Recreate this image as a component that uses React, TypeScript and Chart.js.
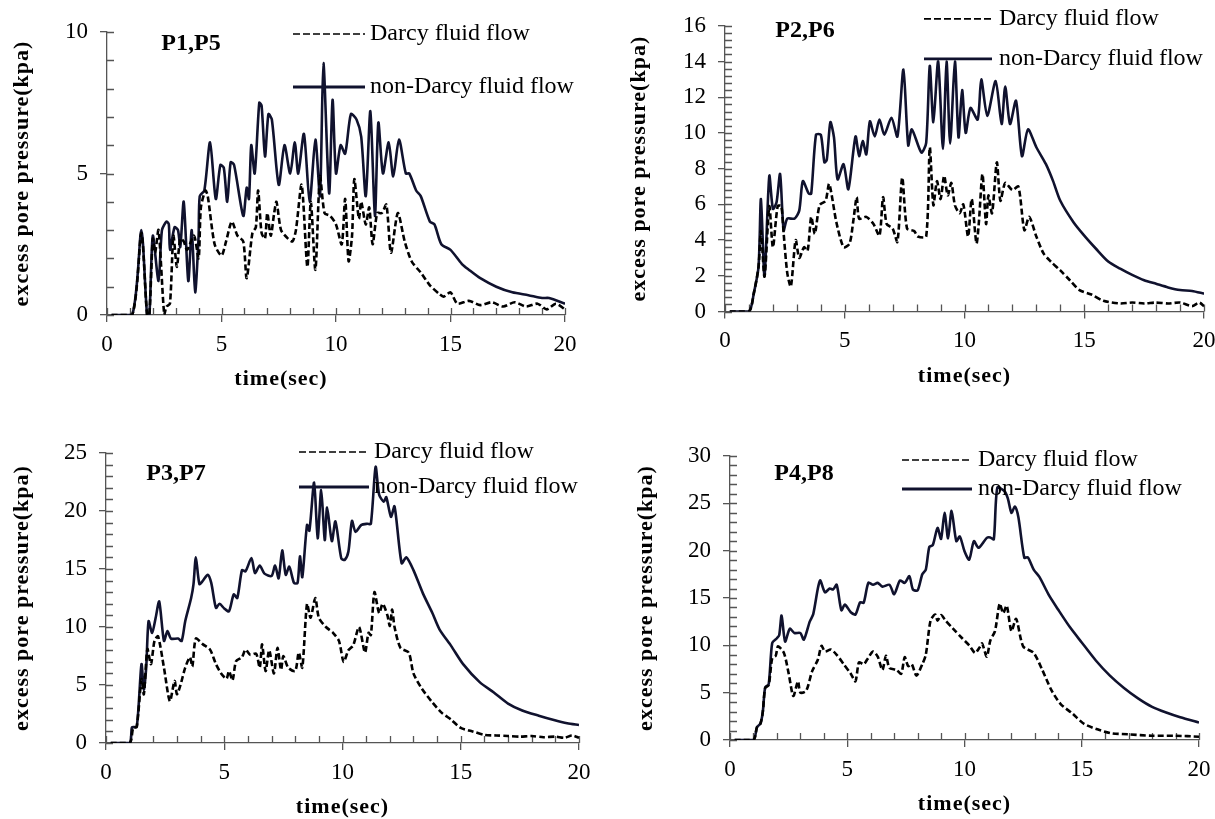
import React, { useEffect, useRef } from "react";
import { Chart, registerables } from "chart.js";

Chart.register(...registerables);

type Pair = [number, number];

// ---------------- data (time s, excess pore pressure kPa) ----------------
const seriesNames = ["Darcy fluid flow", "non-Darcy fluid flow"];
const panelLabels = ["P1,P5", "P2,P6", "P3,P7", "P4,P8"];
const xAxisTitle = "time(sec)";
const yAxisTitle = "excess pore pressure(kpa)";
const xMin = 0;
const xMax = 20;
const xMajorStep = 5;
const xMinorStep = 1;
const yMaxes = [10, 16, 25, 30];
const yMajorSteps = [5, 2, 5, 5];
const yMinorSteps = [1, 0.4, 1, 1];

const p1Darcy: Pair[] = [
  [0.2, 0], [1.1, 0], [1.5, 2.9], [1.75, 0], [1.85, 0], [2.0, 2.7], [2.1, 2.2], [2.25, 3.0], [2.5, 0], [2.6, 0.3],
  [2.75, 0.4], [2.9, 2.8], [3.05, 1.7], [3.2, 2.7], [3.35, 2.6], [3.5, 2.3], [3.8, 2.8], [4.0, 2.0], [4.1, 3.8], [4.3, 4.4],
  [4.4, 4.2], [4.7, 2.5], [5.0, 2.1], [5.2, 2.6], [5.45, 3.3], [5.7, 2.8], [5.95, 2.6], [6.1, 1.3], [6.35, 2.9], [6.5, 3.1],
  [6.6, 4.4], [6.75, 2.9], [6.9, 2.7], [7.0, 3.6], [7.15, 2.8], [7.3, 3.6], [7.4, 4.0], [7.6, 3.0], [7.9, 2.7], [8.1, 2.6],
  [8.25, 3.0], [8.5, 4.6], [8.75, 1.7], [8.9, 4.0], [9.1, 1.6], [9.3, 4.9], [9.5, 3.6], [9.75, 3.5], [10.0, 3.2], [10.25, 2.5],
  [10.4, 4.1], [10.55, 1.9], [10.7, 2.8], [10.8, 4.8], [11.0, 3.4], [11.1, 4.0], [11.3, 3.2], [11.45, 3.8], [11.6, 2.5], [11.8, 3.6],
  [12.0, 3.6], [12.2, 3.9], [12.4, 2.2], [12.7, 3.6], [13.0, 2.6], [13.3, 1.9], [13.7, 1.5], [14.1, 1.05], [14.5, 0.75], [14.7, 0.65],
  [15.0, 0.8], [15.3, 0.4], [15.8, 0.5], [16.3, 0.35], [16.8, 0.45], [17.3, 0.3], [17.8, 0.45], [18.3, 0.3], [18.8, 0.4], [19.2, 0.2],
  [19.6, 0.4], [20.0, 0.2],
];

const p1NonDarcy: Pair[] = [
  [0.2, 0], [1.1, 0], [1.5, 3.0], [1.75, 0], [1.85, 0], [2.0, 2.8], [2.25, 1.2], [2.4, 3.0], [2.6, 3.3], [2.7, 3.2],
  [2.75, 2.3], [2.95, 3.1], [3.1, 3.0], [3.2, 2.4], [3.35, 4.0], [3.55, 1.2], [3.7, 3.0], [3.85, 0.8], [4.0, 2.8], [4.05, 4.2],
  [4.25, 4.4], [4.5, 6.1], [4.75, 4.1], [4.95, 5.3], [5.1, 5.2], [5.25, 4.0], [5.4, 5.4], [5.55, 5.3], [5.95, 3.5], [6.1, 4.5],
  [6.2, 4.1], [6.3, 6.0], [6.45, 5.0], [6.65, 7.5], [6.75, 7.4], [6.9, 5.6], [7.05, 7.1], [7.2, 6.9], [7.5, 4.6], [7.75, 6.0],
  [8.0, 5.0], [8.2, 6.1], [8.35, 5.0], [8.6, 6.4], [8.85, 4.0], [9.1, 6.2], [9.3, 4.2], [9.45, 8.9], [9.7, 4.3], [9.85, 7.6],
  [10.0, 5.0], [10.2, 6.0], [10.4, 5.7], [10.65, 7.1], [10.9, 6.9], [11.1, 6.3], [11.3, 4.2], [11.5, 7.2], [11.7, 3.5], [11.85, 6.8],
  [12.05, 5.0], [12.3, 6.1], [12.5, 4.9], [12.75, 6.2], [13.05, 5.0], [13.2, 5.0], [13.5, 4.4], [13.7, 4.2], [14.1, 3.3], [14.3, 3.2],
  [14.6, 2.5], [15.0, 2.3], [15.5, 1.8], [15.8, 1.6], [16.3, 1.3], [17.0, 1.0], [17.7, 0.8], [18.4, 0.7], [19.0, 0.6], [19.3, 0.6],
  [20.0, 0.4],
];

const p2Darcy: Pair[] = [
  [0.2, 0], [1.0, 0], [1.2, 1.0], [1.4, 2.5], [1.5, 4.5], [1.65, 1.95], [1.85, 5.9], [2.0, 3.6], [2.2, 5.9], [2.35, 5.9],
  [2.45, 4.35], [2.6, 2.15], [2.75, 1.4], [2.95, 4.0], [3.1, 3.0], [3.3, 3.6], [3.45, 3.4], [3.6, 5.3], [3.75, 4.35], [3.95, 5.95],
  [4.2, 6.2], [4.35, 7.15], [4.65, 5.0], [4.95, 3.6], [5.2, 3.8], [5.35, 5.0], [5.5, 6.4], [5.6, 5.2], [5.9, 5.3], [6.2, 4.9],
  [6.45, 4.25], [6.6, 6.4], [6.75, 4.9], [7.0, 4.65], [7.2, 3.9], [7.4, 7.5], [7.6, 4.65], [7.9, 4.5], [8.05, 4.2], [8.4, 4.2],
  [8.55, 9.2], [8.7, 5.95], [8.85, 7.3], [9.0, 6.3], [9.15, 7.6], [9.3, 6.5], [9.45, 7.2], [9.6, 5.95], [9.8, 5.5], [9.95, 6.0],
  [10.15, 4.2], [10.3, 6.3], [10.5, 3.8], [10.6, 5.0], [10.75, 7.7], [10.9, 4.9], [11.0, 6.5], [11.15, 5.5], [11.35, 8.35], [11.5, 6.2],
  [11.7, 7.2], [12.0, 6.8], [12.25, 7.0], [12.5, 4.55], [12.7, 5.3], [13.0, 4.2], [13.3, 3.25], [13.6, 2.8], [14.0, 2.3], [14.4, 1.75],
  [14.8, 1.2], [15.3, 0.95], [15.8, 0.6], [16.5, 0.45], [17.0, 0.5], [17.5, 0.45], [18.0, 0.5], [18.5, 0.45], [19.0, 0.5], [19.5, 0.3],
  [19.8, 0.5], [20.0, 0.3],
];

const p2NonDarcy: Pair[] = [
  [0.2, 0], [1.0, 0], [1.2, 1.0], [1.4, 2.5], [1.5, 6.3], [1.65, 2.0], [1.85, 7.6], [2.0, 5.75], [2.15, 6.1], [2.3, 7.7],
  [2.45, 4.55], [2.6, 5.2], [2.9, 5.2], [3.1, 5.65], [3.25, 7.3], [3.5, 6.6], [3.6, 6.6], [3.8, 9.9], [4.0, 9.9], [4.15, 8.35],
  [4.25, 8.5], [4.4, 10.6], [4.55, 9.75], [4.7, 7.4], [4.95, 8.25], [5.15, 6.85], [5.45, 9.8], [5.6, 8.7], [5.75, 9.55], [5.9, 8.8],
  [6.05, 10.65], [6.25, 9.8], [6.45, 10.75], [6.65, 9.9], [6.95, 10.85], [7.2, 9.8], [7.45, 13.55], [7.65, 9.3], [7.8, 10.2], [8.2, 8.9],
  [8.4, 9.45], [8.55, 13.75], [8.7, 10.6], [8.9, 14.0], [9.1, 9.1], [9.25, 14.0], [9.4, 9.4], [9.6, 14.0], [9.75, 9.75], [9.9, 12.4],
  [10.05, 10.0], [10.25, 11.4], [10.55, 10.75], [10.7, 13.0], [10.95, 10.95], [11.3, 12.9], [11.55, 10.5], [11.7, 12.6], [11.9, 10.5], [12.15, 11.8],
  [12.4, 8.7], [12.65, 10.2], [13.0, 9.2], [13.4, 8.25], [13.7, 7.3], [14.0, 6.2], [14.55, 5.0], [15.0, 4.25], [15.5, 3.5], [16.0, 2.8],
  [16.5, 2.4], [17.0, 2.05], [17.5, 1.75], [18.0, 1.55], [18.5, 1.35], [19.0, 1.2], [19.5, 1.15], [20.0, 1.0],
];

const p3Darcy: Pair[] = [
  [0.2, 0], [1.0, 0], [1.15, 1.3], [1.3, 1.4], [1.5, 5.5], [1.6, 4.2], [1.75, 8.1], [1.9, 6.8], [2.05, 8.8], [2.2, 9.2],
  [2.45, 6.5], [2.7, 3.6], [2.9, 5.35], [3.0, 4.2], [3.15, 5.0], [3.35, 6.5], [3.55, 7.4], [3.65, 6.6], [3.8, 9.0], [4.1, 8.5],
  [4.4, 8.05], [4.65, 6.8], [4.9, 5.9], [5.1, 5.55], [5.2, 6.2], [5.35, 5.4], [5.5, 7.05], [5.75, 7.4], [5.9, 8.05], [6.1, 7.6],
  [6.35, 7.7], [6.5, 6.5], [6.6, 8.5], [6.75, 6.2], [6.9, 8.0], [7.1, 6.0], [7.25, 8.2], [7.4, 6.3], [7.5, 7.5], [7.7, 6.5],
  [8.0, 6.2], [8.15, 7.8], [8.3, 6.5], [8.5, 12.0], [8.65, 10.8], [8.85, 12.5], [9.0, 10.8], [9.3, 10.0], [9.6, 9.5], [9.85, 8.8],
  [10.05, 7.0], [10.25, 8.0], [10.45, 8.4], [10.7, 10.0], [10.95, 7.8], [11.1, 9.5], [11.2, 9.3], [11.35, 13.0], [11.55, 11.2], [11.7, 12.0],
  [11.9, 11.0], [12.0, 10.1], [12.1, 11.5], [12.2, 10.0], [12.45, 8.2], [12.8, 7.8], [13.0, 6.0], [13.35, 4.7], [13.8, 3.5], [14.2, 2.6],
  [14.6, 2.0], [15.0, 1.3], [15.5, 1.0], [16.0, 0.7], [16.5, 0.65], [17.0, 0.6], [17.5, 0.55], [18.0, 0.6], [18.5, 0.5], [19.0, 0.55],
  [19.4, 0.45], [19.7, 0.65], [20.0, 0.45],
];

const p3NonDarcy: Pair[] = [
  [0.2, 0], [1.0, 0], [1.1, 1.35], [1.3, 1.4], [1.5, 6.8], [1.6, 4.6], [1.7, 6.5], [1.8, 10.5], [1.95, 9.5], [2.1, 10.8],
  [2.25, 12.2], [2.45, 8.8], [2.6, 9.65], [2.75, 9.0], [3.05, 9.0], [3.2, 8.8], [3.35, 10.5], [3.6, 12.5], [3.7, 13.7], [3.8, 16.0],
  [3.95, 13.7], [4.1, 14.0], [4.3, 14.5], [4.45, 13.8], [4.65, 11.65], [4.8, 12.0], [5.0, 11.6], [5.2, 11.35], [5.4, 12.8], [5.55, 12.5],
  [5.75, 14.9], [5.9, 14.8], [6.15, 15.95], [6.3, 14.65], [6.5, 15.3], [6.7, 14.6], [7.0, 14.4], [7.15, 15.3], [7.3, 14.2], [7.45, 16.6],
  [7.6, 14.5], [7.75, 15.2], [7.95, 13.8], [8.1, 13.8], [8.2, 16.1], [8.3, 14.3], [8.5, 18.8], [8.6, 18.3], [8.8, 22.45], [8.95, 17.65],
  [9.1, 21.8], [9.25, 17.5], [9.35, 20.3], [9.55, 17.4], [9.7, 19.1], [9.95, 15.9], [10.1, 15.8], [10.25, 16.5], [10.4, 19.15], [10.55, 18.2],
  [10.8, 18.8], [11.05, 18.9], [11.2, 18.9], [11.4, 23.8], [11.55, 21.4], [11.75, 20.8], [11.85, 21.2], [12.05, 19.5], [12.2, 20.4], [12.5, 15.5],
  [12.7, 16.0], [13.0, 14.9], [13.4, 12.9], [13.8, 11.2], [14.1, 9.8], [14.6, 8.35], [15.1, 6.8], [15.8, 5.25], [16.4, 4.35], [17.0, 3.4],
  [17.6, 2.8], [18.3, 2.35], [18.9, 2.0], [19.5, 1.7], [20.0, 1.55],
];

const p4Darcy: Pair[] = [
  [0.2, 0], [1.0, 0], [1.15, 1.35], [1.3, 1.75], [1.4, 3.0], [1.5, 5.5], [1.65, 5.8], [1.8, 8.65], [1.95, 8.9], [2.05, 9.9],
  [2.3, 9.2], [2.5, 7.05], [2.7, 4.65], [2.9, 6.2], [3.0, 5.0], [3.25, 5.2], [3.5, 7.25], [3.75, 8.5], [3.9, 9.95], [4.05, 9.35],
  [4.3, 9.55], [4.55, 9.0], [4.85, 8.0], [5.15, 7.0], [5.35, 6.2], [5.5, 8.2], [5.7, 8.0], [5.85, 8.5], [6.1, 9.35], [6.3, 8.8],
  [6.5, 7.4], [6.65, 8.9], [6.8, 7.6], [7.1, 7.4], [7.3, 7.0], [7.45, 8.75], [7.6, 7.8], [7.75, 8.0], [7.95, 6.8], [8.2, 8.0],
  [8.35, 9.0], [8.55, 12.6], [8.75, 13.25], [8.85, 12.6], [9.0, 13.2], [9.2, 12.6], [9.5, 11.8], [9.9, 10.75], [10.2, 10.0], [10.45, 9.2],
  [10.65, 9.8], [10.75, 10.2], [10.95, 8.8], [11.1, 10.5], [11.3, 11.5], [11.5, 14.4], [11.65, 13.4], [11.8, 14.2], [12.0, 11.5], [12.2, 12.8],
  [12.5, 9.9], [12.95, 9.2], [13.3, 7.5], [13.7, 5.3], [14.1, 3.8], [14.6, 2.8], [15.1, 1.7], [15.7, 1.1], [16.3, 0.7], [17.0, 0.6],
  [18.0, 0.45], [19.0, 0.45], [20.0, 0.35],
];

const p4NonDarcy: Pair[] = [
  [0.2, 0], [1.0, 0], [1.15, 1.35], [1.3, 1.75], [1.4, 3.0], [1.5, 5.55], [1.65, 5.9], [1.8, 10.25], [2.0, 10.75], [2.1, 11.1],
  [2.2, 13.15], [2.35, 10.4], [2.55, 11.75], [2.75, 11.3], [3.0, 11.3], [3.15, 10.6], [3.4, 12.5], [3.55, 13.3], [3.75, 16.05], [3.85, 16.85],
  [4.05, 15.6], [4.25, 16.0], [4.4, 15.9], [4.55, 16.4], [4.75, 13.7], [4.9, 14.3], [5.15, 13.5], [5.35, 13.25], [5.55, 14.55], [5.7, 14.5],
  [5.9, 16.6], [6.1, 16.4], [6.3, 16.6], [6.5, 16.2], [6.8, 16.4], [7.0, 15.4], [7.25, 16.85], [7.45, 16.6], [7.65, 17.3], [7.8, 15.9],
  [8.0, 15.8], [8.2, 17.5], [8.35, 18.0], [8.5, 20.4], [8.65, 20.6], [8.85, 22.4], [9.0, 21.25], [9.15, 24.0], [9.3, 21.3], [9.45, 24.2],
  [9.65, 21.0], [9.8, 21.5], [10.0, 19.95], [10.2, 19.05], [10.4, 21.0], [10.6, 20.3], [10.95, 21.35], [11.1, 21.4], [11.25, 21.2], [11.4, 26.65],
  [11.7, 26.3], [11.85, 25.5], [12.0, 24.0], [12.15, 24.65], [12.3, 23.5], [12.55, 19.25], [12.7, 19.3], [12.95, 18.0], [13.2, 17.2], [13.6, 15.3],
  [14.0, 13.75], [14.5, 11.9], [15.0, 10.3], [15.6, 8.4], [16.2, 6.8], [16.8, 5.5], [17.4, 4.4], [18.0, 3.5], [18.6, 2.9], [19.2, 2.4],
  [20.0, 1.85],
];

const darcySeries = [p1Darcy, p2Darcy, p3Darcy, p4Darcy];
const nonDarcySeries = [p1NonDarcy, p2NonDarcy, p3NonDarcy, p4NonDarcy];

// ---------------- layout & style ----------------
const PAGE_W = 1215;
const PAGE_H = 819;
const CANVAS_W = 1260;
const CANVAS_H = 860;
const X_SCALE_H = 78;
const FONT = "'Liberation Serif', 'Times New Roman', serif";
const AXIS_COLOR = "#555555";
const SOLID_COLOR = "#10122e";
const DASH_COLOR = "#000000";
const TICK_FONT = 23;
const TITLE_FONT = 22;
const LEGEND_FONT = 24;

type PanelLayout = {
  left: number; right: number; top: number; bottom: number;
  yTitleX: number; xTitleShift: number;
  legend: { x0: number; x1: number; tx: number; y1: number; y2: number };
  label: { cx: number; cy: number };
};

const layouts: PanelLayout[] = [
  { left: 107, right: 565, top: 32, bottom: 315, yTitleX: 22, xTitleShift: -55,
    legend: { x0: 186, x1: 258, tx: 263, y1: 2, y2: 55 }, label: { cx: 84, cy: 12 } },
  { left: 725, right: 1204, top: 24, bottom: 311.5, yTitleX: 639, xTitleShift: 0,
    legend: { x0: 199, x1: 267, tx: 274, y1: -7, y2: 33 }, label: { cx: 80, cy: 5 } },
  { left: 106, right: 579, top: 453, bottom: 743, yTitleX: 22, xTitleShift: 0,
    legend: { x0: 193, x1: 263, tx: 268, y1: -1, y2: 34 }, label: { cx: 70, cy: 21 } },
  { left: 730, right: 1199, top: 456, bottom: 740, yTitleX: 646, xTitleShift: 0,
    legend: { x0: 172, x1: 242, tx: 248, y1: 4, y2: 33 }, label: { cx: 74, cy: 18 } },
];

const decorPlugin = {
  id: "decor",
  beforeDatasetsDraw(chart: any, _args: any, opts: any) {
    const { ctx, chartArea, scales } = chart;
    const x = scales.x;
    const y = scales.y;
    ctx.save();
    ctx.strokeStyle = AXIS_COLOR;
    ctx.lineWidth = 1.3;
    ctx.beginPath();
    for (let i = 0; xMin + i * xMinorStep <= xMax + 1e-9; i++) {
      const px = Math.round(x.getPixelForValue(xMin + i * xMinorStep)) + 0.5;
      ctx.moveTo(px, chartArea.bottom);
      ctx.lineTo(px, chartArea.bottom - 7);
    }
    for (let i = 0; i * opts.yMinor <= opts.yMax + 1e-9; i++) {
      const py = Math.round(y.getPixelForValue(i * opts.yMinor)) + 0.5;
      ctx.moveTo(chartArea.left, py);
      ctx.lineTo(chartArea.left + 7, py);
    }
    ctx.stroke();
    ctx.restore();
  },
  afterDraw(chart: any, _args: any, opts: any) {
    const { ctx, chartArea } = chart;
    const lg = opts.legend;
    const l = chartArea.left;
    const t = chartArea.top;
    ctx.save();
    // legend samples
    ctx.strokeStyle = DASH_COLOR;
    ctx.lineWidth = 1.7;
    ctx.setLineDash([7, 3]);
    ctx.beginPath();
    ctx.moveTo(l + lg.x0, t + lg.y1);
    ctx.lineTo(l + lg.x1, t + lg.y1);
    ctx.stroke();
    ctx.setLineDash([]);
    ctx.strokeStyle = SOLID_COLOR;
    ctx.lineWidth = 2.8;
    ctx.beginPath();
    ctx.moveTo(l + lg.x0, t + lg.y2);
    ctx.lineTo(l + lg.x1, t + lg.y2);
    ctx.stroke();
    ctx.fillStyle = "#000";
    ctx.textBaseline = "middle";
    ctx.textAlign = "left";
    ctx.font = `${LEGEND_FONT}px ${FONT}`;
    ctx.fillText(seriesNames[0], l + lg.tx, t + lg.y1);
    ctx.fillText(seriesNames[1], l + lg.tx, t + lg.y2);
    // panel label
    ctx.font = `bold 24px ${FONT}`;
    ctx.textAlign = "center";
    ctx.fillText(opts.label, l + opts.labelPos.cx, t + opts.labelPos.cy);
    ctx.restore();
  },
};

function patchTitle(scale: any, spacing: string, shift: number) {
  if (scale.__patched) return;
  const orig = scale.drawTitle.bind(scale);
  scale.drawTitle = () => {
    const c = scale.ctx;
    c.save();
    try { (c as any).letterSpacing = spacing; } catch (e) { /* ignore */ }
    c.translate(shift, 0);
    orig();
    c.restore();
  };
  scale.__patched = true;
}

function buildConfig(i: number): any {
  const lay = layouts[i];
  const padLeft = lay.yTitleX - (TITLE_FONT * 1.2) / 2;
  const yWidth = lay.left - padLeft;
  return {
    type: "line",
    data: {
      datasets: [
        {
          label: seriesNames[0],
          data: darcySeries[i].map(([x, y]) => ({ x, y })),
          borderColor: DASH_COLOR,
          borderWidth: 2.6,
          borderDash: [6, 3],
          pointRadius: 0,
          tension: 0.25,
          fill: false,
        },
        {
          label: seriesNames[1],
          data: nonDarcySeries[i].map(([x, y]) => ({ x, y })),
          borderColor: SOLID_COLOR,
          borderWidth: 2.6,
          pointRadius: 0,
          tension: 0.25,
          fill: false,
        },
      ],
    },
    options: {
      responsive: false,
      animation: false,
      events: [],
      layout: {
        padding: {
          left: padLeft,
          top: lay.top,
          right: CANVAS_W - lay.right,
          bottom: CANVAS_H - lay.bottom - X_SCALE_H,
        },
      },
      plugins: {
        legend: { display: false },
        tooltip: { enabled: false },
        decor: {
          yMax: yMaxes[i],
          yMinor: yMinorSteps[i],
          legend: lay.legend,
          label: panelLabels[i],
          labelPos: lay.label,
        },
      },
      scales: {
        x: {
          type: "linear",
          min: xMin,
          max: xMax,
          afterFit: (s: any) => {
            s.height = X_SCALE_H;
            patchTitle(s, "1px", lay.xTitleShift);
          },
          ticks: {
            stepSize: xMajorStep,
            font: { family: FONT, size: TICK_FONT },
            color: "#000",
            padding: 9,
            maxRotation: 0,
          },
          grid: {
            display: true,
            drawOnChartArea: false,
            drawTicks: true,
            tickLength: 7,
            color: AXIS_COLOR,
            lineWidth: 1.3,
          },
          border: { display: true, color: AXIS_COLOR, width: 1.3 },
          title: {
            display: true,
            text: xAxisTitle,
            font: { family: FONT, size: TITLE_FONT, weight: "bold" },
            color: "#000",
            padding: 0,
          },
        },
        y: {
          type: "linear",
          min: 0,
          max: yMaxes[i],
          afterFit: (s: any) => {
            s.width = yWidth;
            patchTitle(s, "1px", 0);
          },
          ticks: {
            stepSize: yMajorSteps[i],
            font: { family: FONT, size: TICK_FONT },
            color: "#000",
            padding: 12,
          },
          grid: {
            display: true,
            drawOnChartArea: false,
            drawTicks: true,
            tickLength: 7,
            color: AXIS_COLOR,
            lineWidth: 1.3,
          },
          border: { display: true, color: AXIS_COLOR, width: 1.3 },
          title: {
            display: true,
            text: yAxisTitle,
            font: { family: FONT, size: TITLE_FONT, weight: "bold" },
            color: "#000",
            padding: 0,
          },
        },
      },
    },
    plugins: [decorPlugin],
  };
}

function Panel({ index }: { index: number }) {
  const ref = useRef<HTMLCanvasElement | null>(null);
  useEffect(() => {
    if (!ref.current) return;
    const chart = new Chart(ref.current, buildConfig(index));
    return () => chart.destroy();
  }, [index]);
  return (
    <canvas
      ref={ref}
      width={CANVAS_W}
      height={CANVAS_H}
      style={{ position: "absolute", left: 0, top: 0, width: CANVAS_W, height: CANVAS_H, pointerEvents: "none" }}
    />
  );
}

export default function App() {
  return (
    <div
      style={{
        position: "absolute",
        left: 0,
        top: 0,
        width: PAGE_W,
        height: PAGE_H,
        overflow: "hidden",
        background: "#ffffff",
      }}
    >
      {panelLabels.map((_, i) => (
        <Panel key={i} index={i} />
      ))}
    </div>
  );
}
